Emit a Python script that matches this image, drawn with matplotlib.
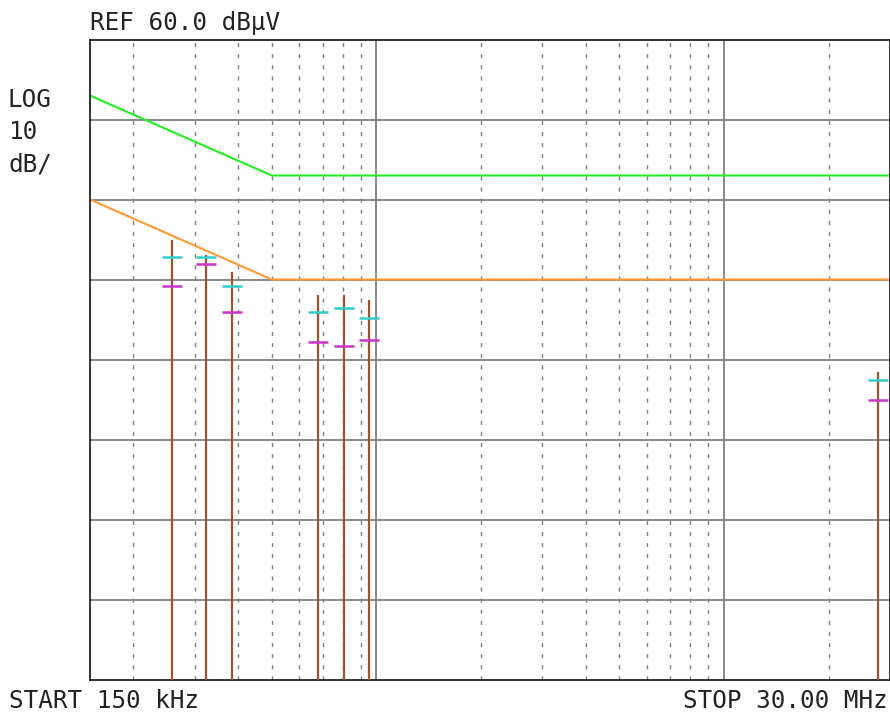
import numpy as np
import matplotlib
matplotlib.use('Agg')
import matplotlib.pyplot as plt

plt.rcParams['lines.scale_dashes'] = False

# frequency axis in Hz, amplitudes in dBuV
f_start = 150e3
f_stop = 30e6
ref_level = 60.0
db_per_div = 10.0

# limit lines (frequency breakpoints and levels)
limit_freqs = [150e3, 500e3, 30e6]
qp_limit = [53.0, 43.0, 43.0]
avg_limit = [40.0, 30.0, 30.0]

# measured peaks
peak_freqs = [259e3, 323e3, 385e3, 680e3, 808e3, 950e3, 27.65e6]
peak_levels = [34.9, 33.1, 30.9, 28.1, 28.1, 27.4, 18.5]
qp_levels = [32.8, 32.8, 29.2, 26.0, 26.5, 25.2, 17.4]
avg_levels = [29.2, 32.0, 26.0, 22.2, 21.7, 22.5, 14.9]

bottom = ref_level - 8 * db_per_div

fig = plt.figure(figsize=(8.9, 7.15), dpi=100)
ax = fig.add_axes([90/890, 35.5/715, 800/890, 640/715])
ax.set_xscale('log')
ax.set_xlim(f_start, f_stop)
ax.set_ylim(bottom, ref_level)

# graticule
for lvl in np.arange(bottom + db_per_div, ref_level, db_per_div):
    ax.axhline(lvl, color='#808080', lw=1.3, zorder=1)
for dec in [1e5, 1e6, 1e7]:
    for m in range(1, 10):
        f = dec * m
        if f <= f_start or f >= f_stop:
            continue
        if m == 1:
            ax.axvline(f, color='#808080', lw=1.3, zorder=1)
        else:
            ax.axvline(f, color='#808080', lw=1.0, ls=(0, (3, 5)), zorder=1)

ax.plot(limit_freqs, qp_limit, color='#22ee22', lw=1.5, zorder=2)
ax.plot(limit_freqs, avg_limit, color='#ff9933', lw=1.5, zorder=2)

ax.vlines(peak_freqs, bottom, peak_levels, color='#a0522d', lw=1.6, zorder=3)
ax.plot(peak_freqs, qp_levels, ls='none', marker='_', ms=15, mew=1.8, color='#33cccc', zorder=4)
ax.plot(peak_freqs, avg_levels, ls='none', marker='_', ms=15, mew=1.8, color='#cc33cc', zorder=4)

ax.set_xticks([])
ax.set_yticks([])
ax.minorticks_off()
for s in ax.spines.values():
    s.set_linewidth(1.3)
    s.set_color('#222222')

font = dict(family='DejaVu Sans Mono', size=17.5, color='#222222')
fig.text(90/890, 1 - 23/715, 'REF 60.0 dB\u03bcV', ha='left', va='center', **font)
fig.text(8/890, 1 - 100/715, 'LOG', ha='left', va='center', **font)
fig.text(8/890, 1 - 132/715, '10', ha='left', va='center', **font)
fig.text(8/890, 1 - 164/715, 'dB/', ha='left', va='center', **font)
fig.text(9/890, 1 - 701/715, 'START 150 kHz', ha='left', va='center', **font)
fig.text(888/890, 1 - 701/715, 'STOP 30.00 MHz', ha='right', va='center', **font)

fig.savefig('out.png', dpi=100)
